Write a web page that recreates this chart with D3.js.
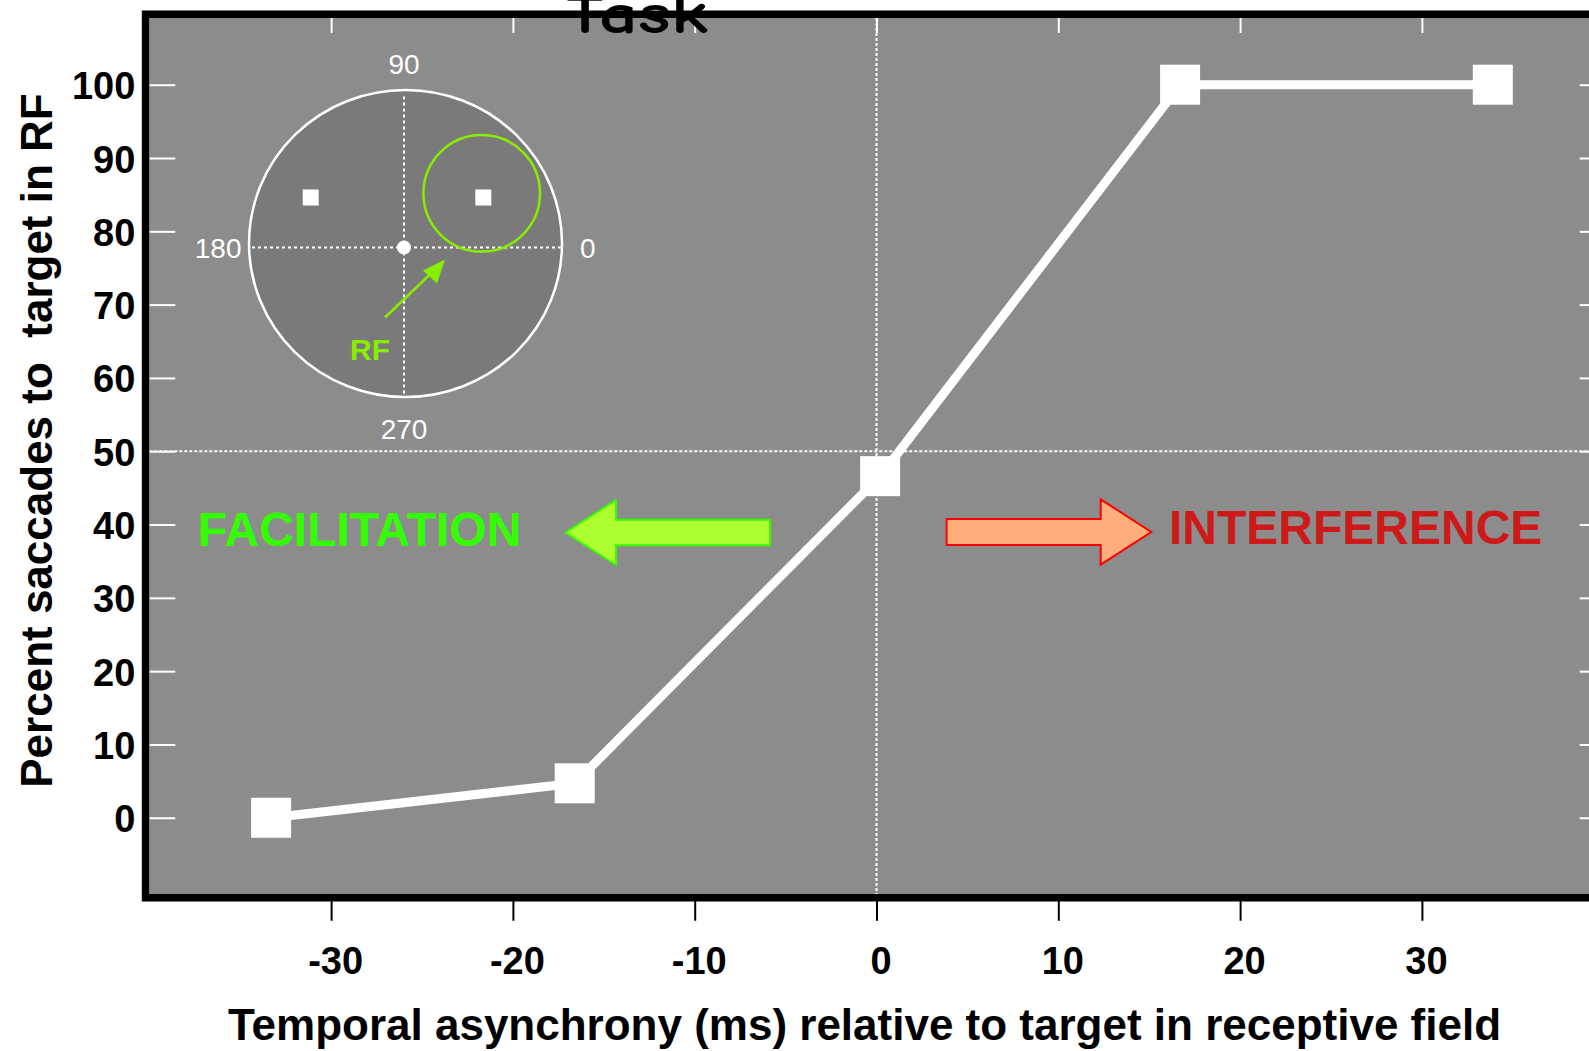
<!DOCTYPE html>
<html>
<head>
<meta charset="utf-8">
<script src="https://cdn.jsdelivr.net/npm/d3@7"></script>
<style>
  html, body { margin: 0; padding: 0; background: #ffffff; }
  svg { display: block; }
</style>
</head>
<body>
<svg id="chart" width="1589" height="1051"></svg>
<script>
// ---- data ----
const asynchronyMs = [-33.3, -16.6, 0.2, 16.7, 33.9];
const percentToRF  = [0, 4.7, 46.6, 100, 100];

const xTickValues = [-30, -20, -10, 0, 10, 20, 30];
const yTickValues = [0, 10, 20, 30, 40, 50, 60, 70, 80, 90, 100];

const titleText  = "Task";
const xAxisTitle = "Temporal asynchrony (ms) relative to target in receptive field";
const yAxisTitle = "Percent saccades to  target in RF";

const insetAngles = [0, 90, 180, 270];
const insetRFLabel = "RF";
const effectLabels = ["FACILITATION", "INTERFERENCE"];

// ---- layout ----
const W = 1589, H = 1051;
const plot = { left: 149.3, right: 1603.7, top: 18, bottom: 894 };
const frameWidth = 7.5;
const bg = "#8c8c8c";
const font = "'Liberation Sans', Arial, Helvetica, sans-serif";
const plainNumber = d => String(d);   // hyphen-minus, as printed on the axes

const svg = d3.select("#chart");

const x = d3.scaleLinear().domain([-40, 40]).range([plot.left, plot.right]);
const y = d3.scaleLinear().domain([-10.4, 109.1]).range([plot.bottom, plot.top]);

// plot background
svg.append("rect")
  .attr("x", plot.left).attr("y", plot.top)
  .attr("width", plot.right - plot.left).attr("height", plot.bottom - plot.top)
  .attr("fill", bg);

// reference lines: zero asynchrony and 50 %
const refG = svg.append("g")
  .attr("stroke", "#ffffff").attr("stroke-width", 2)
  .attr("stroke-dasharray", "3,2");
refG.append("line")
  .attr("x1", x(0)).attr("x2", x(0))
  .attr("y1", plot.top).attr("y2", plot.bottom);
refG.append("line")
  .attr("x1", plot.left).attr("x2", plot.right)
  .attr("y1", y(50)).attr("y2", y(50));

// ---- inset: target layout on the screen ----
const inset = svg.append("g").attr("transform", "translate(404,247.5)");
inset.append("ellipse")
  .attr("cx", 1.5).attr("cy", -4).attr("rx", 156.5).attr("ry", 153.5)
  .attr("fill", "#7a7a7a").attr("stroke", "#ffffff").attr("stroke-width", 2.5);
const cross = inset.append("g")
  .attr("stroke", "#ffffff").attr("stroke-width", 2)
  .attr("stroke-dasharray", "3,3");
cross.append("line").attr("x1", -152).attr("x2", 157).attr("y1", 0).attr("y2", 0);
cross.append("line").attr("x1", 0).attr("x2", 0).attr("y1", -151).attr("y2", 146);

const rfGreen = "#88ee00";
inset.append("circle")
  .attr("cx", 77.7).attr("cy", -54.2).attr("r", 58.3)
  .attr("fill", "none").attr("stroke", rfGreen).attr("stroke-width", 2.5);

// two saccade targets
inset.selectAll("rect.target")
  .data([-93.3, 79.3])
  .join("rect").attr("class", "target")
  .attr("x", d => d - 8).attr("y", -58)
  .attr("width", 16).attr("height", 16)
  .attr("fill", "#ffffff");

// fixation point
inset.append("circle").attr("r", 7).attr("fill", "#ffffff");

// arrow pointing to the receptive field
inset.append("line")
  .attr("x1", -19).attr("y1", 70).attr("x2", 30).attr("y2", 23)
  .attr("stroke", rfGreen).attr("stroke-width", 2.5);
inset.append("path")
  .attr("d", "M41,12 L19,23 L33,36 Z")
  .attr("fill", rfGreen);
inset.append("text")
  .attr("x", -54).attr("y", 112)
  .attr("font-family", font).attr("font-weight", "bold")
  .attr("font-size", 30).attr("fill", rfGreen)
  .text(insetRFLabel);

// polar angle labels
const angleLabelPos = {
  0:   { x: 176,    y: 10.5,  anchor: "start" },
  90:  { x: 0,      y: -174,  anchor: "middle" },
  180: { x: -162.5, y: 10.5,  anchor: "end" },
  270: { x: 0,      y: 191,   anchor: "middle" }
};
inset.selectAll("text.angle")
  .data(insetAngles)
  .join("text").attr("class", "angle")
  .attr("x", d => angleLabelPos[d].x)
  .attr("y", d => angleLabelPos[d].y)
  .attr("text-anchor", d => angleLabelPos[d].anchor)
  .attr("font-family", font).attr("font-size", 28)
  .attr("fill", "#ffffff")
  .text(d => d);

// ---- effect annotations ----
function arrowPath(tailX, tipX, cy, shaftHalf, headBaseX, headHalf) {
  return `M${tailX},${cy - shaftHalf} L${headBaseX},${cy - shaftHalf} L${headBaseX},${cy - headHalf} ` +
         `L${tipX},${cy} L${headBaseX},${cy + headHalf} L${headBaseX},${cy + shaftHalf} L${tailX},${cy + shaftHalf} Z`;
}
svg.append("path")
  .attr("d", arrowPath(770, 565.5, 532.5, 12.7, 616, 32.5))
  .attr("fill", "#adff2f").attr("stroke", "#33ff00").attr("stroke-width", 2);
svg.append("path")
  .attr("d", arrowPath(946.6, 1151.3, 532, 13, 1100.7, 32.7))
  .attr("fill", "#ffad7a").attr("stroke", "#ff0000").attr("stroke-width", 2);

svg.append("text")
  .attr("x", 197.8).attr("y", 546)
  .attr("font-family", font).attr("font-weight", "bold").attr("font-size", 48)
  .attr("fill", "#33ff00")
  .text(effectLabels[0]);
svg.append("text")
  .attr("x", 1169).attr("y", 544)
  .attr("font-family", font).attr("font-weight", "bold").attr("font-size", 48)
  .attr("fill", "#cc1a1a")
  .text(effectLabels[1]);

// ---- data series ----
const points = asynchronyMs.map((t, i) => ({ t, p: percentToRF[i] }));
const line = d3.line().x(d => x(d.t)).y(d => y(d.p));
svg.append("path")
  .datum(points)
  .attr("d", line)
  .attr("fill", "none").attr("stroke", "#ffffff").attr("stroke-width", 9)
  .attr("stroke-linejoin", "miter");
const markerSize = 40;
svg.selectAll("rect.marker")
  .data(points)
  .join("rect").attr("class", "marker")
  .attr("x", d => x(d.t) - markerSize / 2)
  .attr("y", d => y(d.p) - markerSize / 2)
  .attr("width", markerSize).attr("height", markerSize)
  .attr("fill", "#ffffff");

// ---- axes ----
// inward white ticks on top and right
const topAxis = svg.append("g")
  .attr("transform", `translate(0,${plot.top})`)
  .call(d3.axisTop(x).tickValues(xTickValues).tickSize(-15).tickFormat(""));
const rightAxis = svg.append("g")
  .attr("transform", `translate(${plot.right},0)`)
  .call(d3.axisRight(y).tickValues(yTickValues).tickSize(-24).tickFormat(""));
// left axis: inward white ticks, black labels
const leftAxis = svg.append("g")
  .attr("transform", `translate(${plot.left},0)`)
  .call(d3.axisLeft(y).tickValues(yTickValues).tickFormat(plainNumber)
    .tickSize(-26).tickPadding(14));
// bottom axis: outward black ticks
const bottomAxis = svg.append("g")
  .attr("transform", `translate(0,${plot.bottom + frameWidth / 2})`)
  .call(d3.axisBottom(x).tickValues(xTickValues).tickFormat(plainNumber)
    .tickSize(23).tickPadding(26.3));

[topAxis, rightAxis, leftAxis].forEach(g => {
  g.select(".domain").remove();
  g.selectAll(".tick line").attr("stroke", "#ffffff").attr("stroke-width", 2);
});
bottomAxis.select(".domain").remove();
bottomAxis.selectAll(".tick line").attr("stroke", "#000000").attr("stroke-width", 2);

leftAxis.selectAll(".tick text")
  .attr("font-family", font).attr("font-weight", "bold").attr("font-size", 38)
  .attr("fill", "#000000").attr("dy", "0.37em");
bottomAxis.selectAll(".tick text")
  .attr("font-family", font).attr("font-weight", "bold").attr("font-size", 38)
  .attr("fill", "#000000").attr("dx", 4);

// frame (right edge sits beyond the visible area)
svg.append("rect")
  .attr("x", plot.left - frameWidth / 2).attr("y", plot.top - frameWidth / 2)
  .attr("width", plot.right - plot.left + frameWidth)
  .attr("height", plot.bottom - plot.top + frameWidth)
  .attr("fill", "none").attr("stroke", "#000000").attr("stroke-width", frameWidth);

// ---- titles ----
svg.append("text")
  .attr("x", 636.5).attr("y", 33)
  .attr("text-anchor", "middle")
  .attr("font-family", "'Comic Sans MS', 'Comic Neue', 'DejaVu Sans', sans-serif")
  .attr("font-weight", "bold")
  .attr("font-size", 56).attr("fill", "#000000")
  .attr("textLength", 143).attr("lengthAdjust", "spacingAndGlyphs")
  .text(titleText);

svg.append("text")
  .attr("x", 864.5).attr("y", 1040)
  .attr("text-anchor", "middle")
  .attr("font-family", font).attr("font-weight", "bold").attr("font-size", 44)
  .attr("fill", "#000000")
  .text(xAxisTitle);

svg.append("text")
  .attr("transform", "translate(51.7,440.5) rotate(-90)")
  .attr("text-anchor", "middle")
  .attr("font-family", font).attr("font-weight", "bold").attr("font-size", 44)
  .attr("fill", "#000000")
  .style("white-space", "pre")
  .text(yAxisTitle);
</script>
</body>
</html>
